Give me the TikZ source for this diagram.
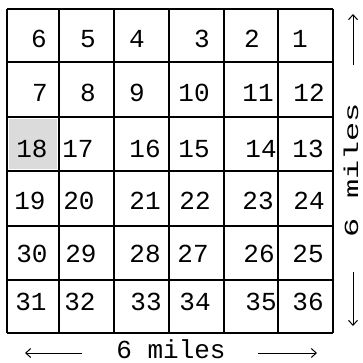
\documentclass[tikz,border=0pt]{standalone}
\usepackage{fontspec}
\setmonofont{Liberation Mono}
\usetikzlibrary{arrows.meta}
\begin{document}
\begin{tikzpicture}[x=1pt,y=-1pt,
  gridline/.style={line width=1.7pt},
  num/.style={font=\ttfamily\fontsize{26}{26}\selectfont, inner sep=0pt},
  lbl/.style={font=\ttfamily\fontsize{26}{26}\selectfont, inner sep=0pt},
  rlbl/.style={font=\ttfamily\fontsize{20}{20}\selectfont, inner sep=0pt},
  dimarrow/.style={line width=1pt, -{Straight Barb[length=5pt,width=9pt]}}]
\useasboundingbox (0,0) rectangle (363,362);
\fill[gray!28] (9,119) rectangle (57,169);
% grid
\foreach \y in {9,62,117,171,226,280,333} \draw[gridline] (7,\y) -- (333,\y);
\foreach \x in {7,59,114,169,224,278,333} \draw[gridline] (\x,9) -- (\x,333);
% numbers
\foreach \n/\x/\y in {6/39/39, 5/88/39, 4/137/39, 3/202/39, 2/252/39, 1/300/39,
  7/40/93, 8/88/93, 9/137/93, 10/194/93, 11/258/93, 12/309/93,
  18/32/149, 17/78/149, 16/145/149, 15/194/149, 14/261/149, 13/308/149,
  19/30/201, 20/79/201, 21/145/201, 22/195/201, 23/258/201, 24/309/201,
  30/32/254, 29/81/254, 28/145/254, 27/193/254, 26/259/254, 25/308/254,
  31/31/302, 32/80/302, 33/146/302, 34/195/302, 35/261/302, 36/308/302}
  \node[num] (n\n) at (\x,\y) {\n};
% bottom label
\node[lbl] (bl) at (171,349) {6 miles};
\coordinate (bla) at (82,353);
\coordinate (blb) at (25,353);
\coordinate (bra) at (258,353);
\coordinate (brb) at (317,353);
\draw[dimarrow] (bla) -- (blb);
\draw[dimarrow] (bra) -- (brb);
% right label
\node[rlbl, rotate=90, xscale=1.6] (rl) at (351,170) {6 miles};
\coordinate (rua) at (353,65);
\coordinate (rub) at (353,14);
\coordinate (rda) at (353,272);
\coordinate (rdb) at (353,326);
\draw[dimarrow] (rua) -- (rub);
\draw[dimarrow] (rda) -- (rdb);
\end{tikzpicture}
\end{document}
